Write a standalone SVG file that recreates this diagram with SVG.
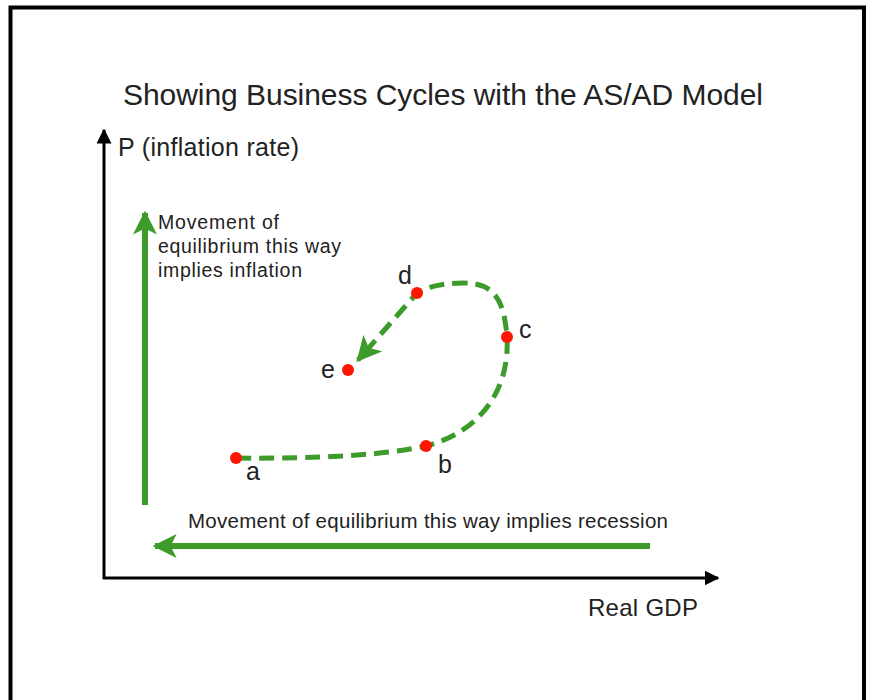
<svg xmlns="http://www.w3.org/2000/svg" width="876" height="700" viewBox="0 0 876 700">
<style>
text{font-family:"Liberation Sans",Arial,sans-serif;fill:#222}
.t{font-size:30px}
.ax{font-size:25px}
.gd{font-size:24px}
.lb{font-size:19.5px}
.rc{font-size:20.5px}
.pt{font-size:25px}
.axis{stroke:#000;stroke-width:3;fill:none}
.g{stroke:#3d9b2b;stroke-width:6;fill:none}
.dash{stroke:#3d9b2b;stroke-width:5;fill:none;stroke-dasharray:15 8}
.dot{fill:#ff1500}
</style>
<defs>
<marker id="ah" viewBox="0 0 10 10" refX="9" refY="5" markerWidth="5" markerHeight="5" orient="auto" markerUnits="strokeWidth">
<path d="M0,0 L10,5 L0,10 Z" fill="#000"/>
</marker>
<marker id="gh" viewBox="0 0 10 10" refX="9" refY="5" markerWidth="4" markerHeight="4" orient="auto" markerUnits="strokeWidth">
<path d="M0,0 L10,5 L0,10 L2.5,5 Z" fill="#3d9b2b"/>
</marker>
<marker id="gh2" viewBox="0 0 10 10" refX="9" refY="5" markerWidth="5" markerHeight="5" orient="auto" markerUnits="strokeWidth">
<path d="M0,0 L10,5 L0,10 L2.5,5 Z" fill="#3d9b2b"/>
</marker>
</defs>
<rect width="876" height="700" fill="#fff"/>
<path d="M10.5,700 V7.5 H864 V700" fill="none" stroke="#000" stroke-width="4"/>
<text class="t" x="443" y="105" text-anchor="middle" textLength="640" lengthAdjust="spacing">Showing Business Cycles with the AS/AD Model</text>
<g id="axes">
<line class="axis" x1="104" y1="579" x2="104" y2="130" marker-end="url(#ah)"/>
<line class="axis" x1="103" y1="578" x2="718" y2="578" marker-end="url(#ah)"/>
<text class="ax" x="118" y="156" textLength="181" lengthAdjust="spacing">P (inflation rate)</text>
<text class="gd" x="588" y="616" textLength="110" lengthAdjust="spacing">Real GDP</text>
</g>
<g id="inflation-arrow">
<line class="g" x1="145" y1="505" x2="145" y2="213" marker-end="url(#gh)"/>
<text class="lb" x="158" y="229" textLength="121" lengthAdjust="spacing">Movement of</text>
<text class="lb" x="158" y="253" textLength="183" lengthAdjust="spacing">equilibrium this way</text>
<text class="lb" x="158" y="277" textLength="144" lengthAdjust="spacing">implies inflation</text>
</g>
<g id="recession-arrow">
<line class="g" x1="650" y1="546" x2="155" y2="546" marker-end="url(#gh)"/>
<text class="rc" x="188" y="528" textLength="480" lengthAdjust="spacing">Movement of equilibrium this way implies recession</text>
</g>
<g id="connectors">
<path class="dash" d="M236,458 C320,459 385,455 426,446 C480,432 510,390 507,337 C504,300 495,283 463,283 C440,283 425,288 417,293 L358,360" marker-end="url(#gh2)"/>
</g>
<g id="point-a"><circle class="dot" cx="236" cy="458" r="6"/><text class="pt" x="246" y="480">a</text></g>
<g id="point-b"><circle class="dot" cx="426" cy="446" r="6"/><text class="pt" x="438" y="473">b</text></g>
<g id="point-c"><circle class="dot" cx="507" cy="337" r="6"/><text class="pt" x="519" y="338">c</text></g>
<g id="point-d"><circle class="dot" cx="417" cy="293" r="6"/><text class="pt" x="398" y="284">d</text></g>
<g id="point-e"><circle class="dot" cx="348" cy="370" r="6"/><text class="pt" x="321" y="378">e</text></g>
</svg>
